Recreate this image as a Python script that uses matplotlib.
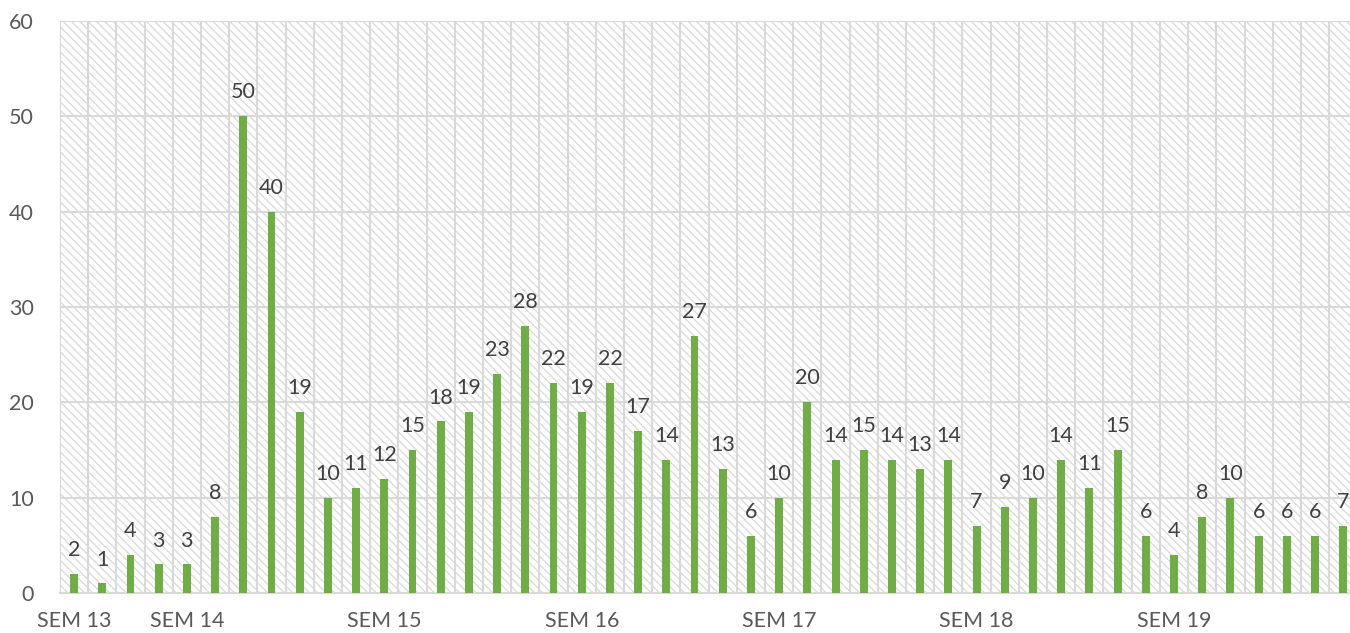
import numpy as np
import matplotlib.pyplot as plt
from matplotlib.patches import Rectangle

# weekly counts, one bar per category
values = [2, 1, 4, 3, 3, 8, 50, 40, 19, 10, 11, 12, 15, 18, 19, 23, 28, 22, 19, 22,
          17, 14, 27, 13, 6, 10, 20, 14, 15, 14, 13, 14, 7, 9, 10, 14, 11, 15, 6, 4,
          8, 10, 6, 6, 6, 7]
week_labels = ["SEM 13", "SEM 14", "SEM 15", "SEM 16", "SEM 17", "SEM 18", "SEM 19"]
week_positions = [0, 4, 11, 18, 25, 32, 39]

BAR_COLOR = "#70AD47"
GRID_COLOR = "#d9d9d9"
TEXT_COLOR = "#595959"

plt.rcParams["font.family"] = ["Lato", "DejaVu Sans"]
plt.rcParams["hatch.color"] = "#d9d9d9"
plt.rcParams["hatch.linewidth"] = 0.9

fig = plt.figure(figsize=(13.5, 6.33), dpi=100)
ax = fig.add_axes([0.0444, 0.0632, 0.9556, 0.9036])

x = np.arange(len(values))
n = len(values)

# hatched background like the excel plot area
ax.add_patch(Rectangle((0, 0), 1, 1, transform=ax.transAxes, facecolor="white",
                       edgecolor="#d9d9d9", hatch="\\\\\\\\", linewidth=0, zorder=0))

ax.bar(x, values, width=0.28, color=BAR_COLOR, zorder=3)

for xi, v in zip(x, values):
    ax.annotate(str(v), (xi, v), xytext=(0, 10), textcoords="offset points",
                ha="center", va="bottom", fontsize=15.5, color="#404040", zorder=4)

ax.set_ylim(0, 60)
ax.set_xlim(-0.5, 45.24)
ax.set_yticks(range(0, 61, 10))
ax.set_yticklabels([str(t) for t in range(0, 61, 10)], fontsize=15.5, color=TEXT_COLOR)

for yv in range(10, 61, 10):
    ax.axhline(yv, color=GRID_COLOR, linewidth=1.5, zorder=1)
for b in np.arange(-0.5, n + 0.5, 1):
    ax.axvline(b, color=GRID_COLOR, linewidth=1.5, zorder=1)

ax.set_xticks(week_positions)
ax.set_xticklabels(week_labels, fontsize=15.5, color=TEXT_COLOR)
ax.tick_params(axis="both", length=0)
ax.tick_params(axis="x", pad=13)
ax.tick_params(axis="y", pad=19)

for side in ["top", "right", "left"]:
    ax.spines[side].set_visible(False)
ax.spines["bottom"].set_color(GRID_COLOR)
ax.spines["bottom"].set_linewidth(1.5)
ax.spines["bottom"].set_zorder(2)

fig.savefig("out.png", dpi=100)
plt.close(fig)
